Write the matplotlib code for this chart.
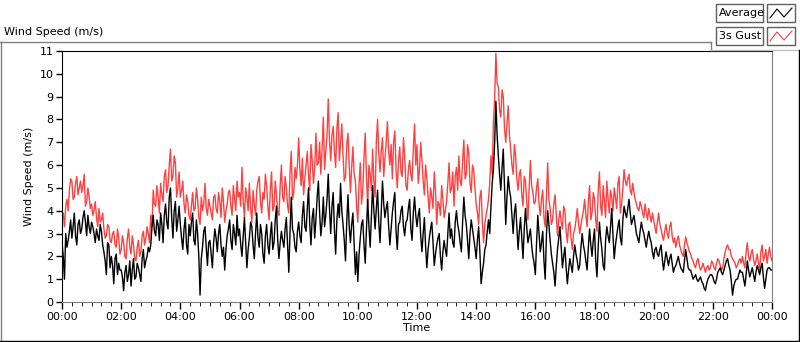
import numpy as np
import matplotlib.pyplot as plt
from matplotlib.lines import Line2D
from matplotlib.patches import Rectangle

# 5 minute samples, one row per hour (00:00 ... 23:55) + final point at 24:00
gust = [
    3.6, 3.3, 4.5, 4.9, 5.3, 4.6, 5.5, 5.0, 4.8, 5.6, 4.4, 4.6,   # 00
    4.3, 4.0, 3.7, 4.1, 3.6, 3.2, 2.9, 3.3, 2.6, 3.1, 2.4, 2.8,   # 01
    2.3, 2.6, 1.9, 3.2, 2.1, 2.5, 1.8, 2.7, 2.2, 3.1, 2.8, 3.0,   # 02
    3.8, 4.9, 4.2, 4.6, 5.2, 4.4, 5.8, 5.1, 6.7, 5.5, 6.1, 5.0,   # 03
    4.6, 5.3, 3.9, 4.4, 3.6, 4.8, 4.1, 4.5, 3.4, 4.0, 5.2, 3.8,   # 04
    4.2, 3.6, 4.7, 3.9, 4.4, 5.0, 3.5, 4.3, 4.9, 3.8, 4.5, 5.3,   # 05
    4.8, 5.9, 3.7, 4.6, 5.2, 3.5, 4.3, 4.9, 5.5, 3.9, 4.5, 5.1,   # 06
    3.6, 5.7, 4.2, 4.7, 3.8, 6.0, 4.4, 5.0, 3.9, 6.6, 4.8, 5.4,   # 07
    7.2, 5.1, 4.7, 6.0, 5.5, 6.9, 5.2, 7.4, 6.1, 5.6, 8.1, 6.6,   # 08
    8.9, 6.2, 7.7, 5.9, 8.3, 7.0, 6.4, 5.5, 7.4, 4.8, 6.8, 5.3,   # 09
    3.5, 6.1, 4.9, 7.4, 4.2, 5.6, 6.7, 4.6, 8.0, 5.7, 7.2, 6.3,   # 10
    7.9, 6.0, 5.4, 7.5, 5.0, 6.8, 5.5, 6.4, 4.9, 6.2, 5.3, 7.8,   # 11
    6.9, 5.8, 6.2, 4.7, 5.4, 3.9, 4.6, 5.7, 3.4, 4.3, 5.1, 3.7,   # 12
    4.4, 6.1, 5.0, 4.2, 5.9, 6.4, 5.1, 7.1, 5.6, 6.5, 4.8, 5.8,   # 13
    4.3, 3.4, 4.9, 2.6, 3.8, 4.5, 6.4, 7.9, 10.9, 9.4, 8.1, 9.0,  # 14
    7.0, 8.6, 6.7, 5.6, 6.4, 4.9, 5.8, 4.2, 5.3, 3.6, 6.2, 4.8,   # 15
    4.4, 5.4, 3.8, 4.9, 3.3, 6.1, 4.1, 3.6, 4.7, 2.9, 4.0, 3.2,   # 16
    4.0, 2.6, 3.5, 2.3, 3.2, 4.1, 3.0, 3.7, 4.5, 3.3, 5.1, 3.9,   # 17
    4.5, 3.1, 5.7, 3.8, 4.4, 5.3, 3.9, 4.6, 5.0, 4.1, 5.5, 4.3,   # 18
    5.8, 5.1, 5.6, 4.7, 4.8, 4.3, 4.0, 4.2, 3.7, 3.9, 4.1, 3.5,   # 19
    3.6, 3.0, 3.9, 3.2, 2.7, 3.4, 2.8, 3.5, 2.6, 2.4, 2.9, 2.3,   # 20
    2.0, 2.85, 2.4, 2.1, 1.8, 1.5, 1.9, 1.4, 1.7, 1.3, 1.6, 1.5,  # 21
    1.7, 1.4, 1.9, 1.6, 1.5, 2.2, 2.5, 2.3, 1.9, 1.7, 1.6, 1.9,   # 22
    2.0, 1.5, 2.6, 1.8, 2.3, 1.6, 2.1, 1.4, 2.5, 2.0, 1.7, 2.4,   # 23
    1.8,
]
# samples 2.5 min after each of the above
gust_mid = [
    3.9, 4.2, 4.0, 5.4, 4.5, 5.2, 4.7, 5.3, 5.1, 4.2, 5.0, 4.1,   # 00
    3.8, 4.4, 3.3, 3.5, 3.9, 2.8, 3.4, 2.7, 3.0, 2.5, 3.2, 2.1,   # 01
    2.9, 2.0, 2.8, 2.4, 2.9, 1.9, 2.4, 2.0, 2.9, 2.5, 3.3, 2.6,   # 02
    3.3, 4.3, 5.1, 3.9, 4.7, 5.5, 4.8, 6.0, 5.3, 6.4, 4.6, 5.7,   # 03
    4.9, 4.3, 4.7, 3.8, 4.2, 4.0, 5.0, 3.7, 4.6, 4.3, 4.1, 4.5,   # 04
    3.9, 4.6, 4.1, 4.8, 3.7, 4.4, 4.0, 4.8, 4.2, 5.1, 4.0, 4.6,   # 05
    4.2, 4.4, 5.0, 4.0, 4.1, 4.9, 3.8, 5.3, 4.4, 4.8, 5.6, 4.2,   # 06
    4.9, 4.0, 5.3, 3.9, 5.1, 4.6, 5.5, 4.2, 5.7, 4.5, 5.9, 6.0,   # 07
    5.8, 6.3, 5.4, 6.6, 4.9, 6.2, 5.9, 6.0, 7.0, 6.7, 5.8, 7.3,   # 08
    7.1, 7.3, 6.6, 7.6, 6.2, 7.8, 5.3, 6.9, 6.0, 5.9, 5.6, 4.2,   # 09
    5.2, 4.3, 6.3, 5.5, 6.0, 4.9, 5.3, 7.0, 6.5, 6.6, 5.5, 7.0,   # 10
    6.6, 6.9, 7.0, 5.8, 6.2, 5.7, 7.2, 5.1, 5.8, 5.6, 6.7, 6.0,   # 11
    5.2, 7.0, 5.3, 6.0, 4.6, 5.0, 4.1, 4.9, 4.4, 3.8, 4.5, 4.0,   # 12
    5.2, 4.8, 5.7, 5.5, 4.9, 5.3, 6.2, 5.4, 6.9, 5.2, 6.0, 5.0,   # 13
    3.9, 4.6, 3.5, 3.4, 4.1, 5.2, 5.6, 8.9, 9.6, 8.4, 9.3, 7.6,   # 14
    7.8, 7.3, 6.0, 6.9, 5.4, 5.6, 4.7, 5.5, 4.4, 5.0, 5.1, 4.3,   # 15
    5.0, 4.3, 4.5, 3.7, 4.6, 4.5, 3.4, 4.3, 3.8, 3.6, 3.5, 4.2,   # 16
    3.1, 3.4, 2.8, 3.0, 3.6, 3.5, 3.4, 4.0, 3.8, 4.4, 3.6, 4.8,   # 17
    3.6, 4.9, 4.2, 5.1, 3.7, 4.5, 4.9, 4.0, 4.6, 5.2, 3.9, 5.0,   # 18
    5.3, 5.4, 4.9, 5.2, 4.5, 4.1, 4.4, 3.9, 4.3, 3.6, 3.8, 3.9,   # 19
    3.3, 3.5, 3.4, 2.9, 3.1, 3.0, 3.3, 2.9, 2.8, 2.7, 2.5, 2.1,   # 20
    2.5, 2.6, 2.2, 1.9, 1.6, 1.8, 1.6, 1.5, 1.5, 1.5, 1.4, 1.8,   # 21
    1.5, 1.7, 1.8, 1.4, 1.9, 2.4, 2.3, 2.0, 1.8, 1.5, 1.8, 1.7,   # 22
    1.7, 2.2, 2.0, 2.1, 1.9, 1.8, 1.7, 2.2, 1.8, 2.3, 2.1, 2.0,   # 23
]
average = [
    2.6, 1.0, 2.4, 3.1, 2.8, 3.9, 2.5, 3.6, 3.2, 4.0, 2.9, 3.3,   # 00
    3.5, 3.0, 3.2, 2.7, 3.1, 2.2, 1.2, 2.5, 2.0, 0.8, 2.1, 1.7,   # 01
    1.4, 0.5, 1.6, 1.2, 0.7, 1.9, 1.1, 1.5, 0.9, 2.3, 1.8, 2.4,   # 02
    2.5, 3.8, 2.9, 3.4, 3.9, 2.6, 4.3, 3.2, 5.0, 2.8, 4.4, 3.6,   # 03
    3.4, 2.3, 3.7, 2.1, 2.9, 3.9, 2.5, 3.0, 0.3, 2.4, 3.3, 1.6,   # 04
    2.7, 1.5, 3.2, 2.2, 3.4, 2.0, 1.4, 2.9, 3.6, 2.3, 3.0, 3.8,   # 05
    3.2, 2.0, 3.7, 1.5, 2.8, 3.3, 1.9, 3.9, 2.4, 3.0, 1.7, 3.4,   # 06
    2.1, 3.5, 2.6, 4.2, 1.9, 3.1, 2.4, 3.7, 1.3, 4.6, 3.0, 2.2,   # 07
    3.5, 2.6, 4.4, 3.1, 5.0, 2.5, 4.1, 3.6, 5.3, 2.9, 4.6, 3.8,   # 08
    5.6, 3.0, 4.8, 2.1, 4.3, 5.2, 3.4, 1.8, 4.7, 2.6, 3.9, 1.2,   # 09
    0.9, 2.8, 3.6, 1.7, 4.5, 2.4, 5.1, 3.2, 4.9, 2.6, 5.3, 3.7,   # 10
    4.4, 2.5, 3.9, 4.8, 2.3, 3.5, 4.2, 2.9, 3.6, 4.5, 2.7, 4.6,   # 11
    3.3, 4.1, 2.2, 3.7, 1.5, 2.8, 3.5, 1.6, 2.5, 3.0, 1.4, 2.7,   # 12
    2.0, 3.9, 3.2, 2.4, 4.0, 3.1, 2.2, 4.6, 3.4, 1.9, 3.6, 2.8,   # 13
    1.9, 3.3, 0.8, 1.7, 2.5, 3.6, 4.2, 5.8, 8.8, 6.4, 4.9, 6.7,   # 14
    3.4, 5.5, 4.6, 3.0, 4.3, 2.3, 3.7, 1.9, 4.1, 2.6, 3.2, 2.0,   # 15
    1.2, 3.8, 2.2, 3.1, 1.0, 4.0, 2.7, 1.7, 0.7, 2.3, 3.3, 1.5,   # 16
    2.4, 0.8, 1.9, 1.3, 2.5, 1.8, 1.6, 3.0, 2.2, 1.4, 3.2, 2.0,   # 17
    3.2, 1.1, 3.5, 2.3, 1.4, 3.3, 2.6, 4.1, 1.9, 2.9, 3.6, 2.5,   # 18
    4.2, 3.7, 4.5, 3.4, 3.8, 3.0, 2.6, 3.5, 3.0, 2.4, 3.1, 2.6,   # 19
    1.9, 2.4, 2.0, 2.5, 1.4, 2.2, 1.6, 2.1, 1.3, 1.6, 2.0, 1.5,   # 20
    1.3, 2.3, 1.5, 1.4, 1.0, 1.2, 0.9, 1.1, 0.8, 0.5, 1.0, 1.2,   # 21
    1.1, 0.8, 1.3, 1.5, 1.2, 1.6, 1.9, 1.4, 0.3, 0.9, 1.0, 1.4,   # 22
    1.3, 0.7, 1.8, 1.1, 1.5, 0.9, 1.6, 1.2, 1.7, 0.6, 1.4, 1.5,   # 23
    1.4,
]
average_mid = [
    2.0, 3.0, 2.7, 3.6, 3.3, 2.9, 3.4, 3.0, 3.7, 3.5, 3.8, 3.0,   # 00
    3.3, 2.6, 2.9, 3.4, 2.5, 1.8, 2.6, 1.5, 1.6, 1.9, 1.2, 1.4,   # 01
    1.1, 1.3, 0.9, 1.8, 1.4, 1.0, 1.7, 1.2, 1.9, 1.5, 2.0, 2.2,   # 02
    3.3, 3.1, 3.6, 2.7, 3.4, 3.8, 3.5, 4.6, 3.7, 4.0, 3.1, 4.2,   # 03
    2.8, 3.2, 2.5, 3.4, 3.5, 2.7, 3.6, 2.0, 1.9, 3.1, 2.4, 2.6,   # 04
    2.1, 2.6, 2.8, 3.0, 2.5, 2.4, 2.3, 3.2, 2.7, 3.4, 2.5, 2.9,   # 05
    2.5, 2.9, 2.6, 2.3, 3.5, 2.5, 3.0, 2.8, 3.4, 2.1, 2.9, 2.5,   # 06
    2.9, 2.3, 3.6, 2.7, 2.6, 2.7, 3.2, 2.5, 3.1, 3.2, 2.4, 3.1,   # 07
    2.9, 3.8, 3.3, 4.1, 3.4, 3.7, 2.8, 4.6, 3.9, 3.5, 3.3, 4.5,   # 08
    4.1, 4.2, 3.2, 3.6, 3.7, 4.0, 2.7, 3.5, 3.3, 3.4, 2.5, 2.2,   # 09
    2.1, 3.4, 2.5, 3.2, 3.3, 3.8, 4.0, 4.1, 3.5, 4.0, 4.3, 4.1,   # 10
    3.3, 3.2, 4.4, 3.1, 3.4, 4.0, 3.3, 3.5, 4.1, 3.2, 3.9, 3.8,   # 11
    3.8, 2.9, 3.0, 2.4, 2.3, 3.2, 2.6, 2.1, 2.8, 2.0, 2.2, 2.3,   # 12
    3.0, 2.8, 2.6, 3.5, 3.4, 2.6, 3.5, 3.8, 2.7, 3.0, 3.2, 2.4,   # 13
    2.7, 2.2, 1.3, 2.3, 3.1, 3.0, 5.2, 7.0, 7.3, 5.6, 5.9, 5.0,   # 14
    4.6, 4.9, 3.8, 3.9, 3.3, 3.1, 2.8, 3.2, 3.3, 2.9, 2.5, 1.7,   # 15
    2.6, 3.0, 2.6, 1.8, 2.9, 3.4, 2.1, 1.3, 1.6, 2.8, 2.4, 2.0,   # 16
    1.5, 1.4, 1.6, 2.0, 2.1, 1.4, 2.4, 2.5, 1.8, 2.4, 2.5, 2.7,   # 17
    1.8, 2.4, 2.8, 1.6, 2.7, 2.9, 3.3, 2.9, 2.5, 3.3, 2.8, 3.6,   # 18
    3.9, 4.1, 3.9, 3.6, 3.4, 2.8, 3.1, 3.2, 2.7, 2.8, 2.8, 2.2,   # 19
    2.3, 2.1, 2.3, 1.9, 1.8, 1.9, 1.9, 1.7, 1.5, 1.8, 1.7, 1.4,   # 20
    1.8, 1.9, 1.4, 1.2, 1.1, 1.0, 1.0, 0.9, 0.6, 0.8, 1.1, 1.2,   # 21
    0.9, 1.0, 1.4, 1.3, 1.4, 1.8, 1.6, 0.9, 0.7, 1.0, 1.2, 1.3,   # 22
    1.0, 1.2, 1.4, 1.3, 1.2, 1.3, 1.4, 1.5, 1.1, 1.0, 1.5, 1.4,   # 23
]

# merge the two sample sets into one 2.5 minute series
gust_all = np.empty(len(gust) + len(gust_mid))
gust_all[0::2] = gust
gust_all[1::2] = gust_mid
avg_all = np.empty(len(average) + len(average_mid))
avg_all[0::2] = average
avg_all[1::2] = average_mid
hours = np.arange(len(gust_all)) / 24.0

tick_hours = list(range(0, 25, 2))
tick_labels = ["00:00", "02:00", "04:00", "06:00", "08:00", "10:00", "12:00",
               "14:00", "16:00", "18:00", "20:00", "22:00", "00:00"]
y_ticks = list(range(0, 12))

W, H = 800, 342


def fx(x):
    return x / W


def fy(y):
    return 1 - y / H


fig = plt.figure(figsize=(W / 100, H / 100), dpi=100)
ax = fig.add_axes([fx(62), fy(302), 710 / W, 251 / H])

ax.plot(hours, gust_all, color="#ff4040", lw=1.0)
ax.plot(hours, avg_all, color="black", lw=1.0)

ax.set_xlim(0, 24)
ax.set_ylim(0, 11)
ax.set_xticks(tick_hours)
ax.set_xticklabels(tick_labels)
ax.set_xticks(np.arange(0, 24.01, 1 / 3), minor=True)
ax.set_yticks(y_ticks)
ax.tick_params(axis="both", labelsize=8, color="black", width=1)
ax.tick_params(axis="x", which="major", length=5, pad=2)
ax.tick_params(axis="x", which="minor", length=3)
ax.tick_params(axis="y", length=4, pad=2)
ax.set_xlabel("Time", fontsize=8, labelpad=1)
ax.set_ylabel("Wind Speed (m/s)", fontsize=8, labelpad=4)

ax.spines["left"].set_color("black")
ax.spines["top"].set_color("black")
ax.spines["right"].set_color("#808080")
ax.spines["bottom"].set_color("#808080")

# chart title and frame
fig.text(fx(4), fy(32), "Wind Speed (m/s)", fontsize=8, va="center", ha="left")
fig.add_artist(Line2D([fx(0), fx(711)], [fy(42), fy(42)], color="#808080", lw=1))
fig.add_artist(Line2D([fx(711), fx(711)], [fy(42), fy(50)], color="#808080", lw=1))
fig.add_artist(Line2D([fx(711), fx(800)], [fy(50), fy(50)], color="#c0c0c0", lw=1))
fig.add_artist(Line2D([fx(1), fx(1)], [fy(42), fy(341)], color="#808080", lw=1))
fig.add_artist(Line2D([fx(0), fx(800)], [fy(341), fy(341)], color="black", lw=1))
fig.add_artist(Line2D([fx(799), fx(799)], [fy(50), fy(341)], color="black", lw=1))

# legend boxes
for i, (name, col) in enumerate([("Average", "black"), ("3s Gust", "#ff4040")]):
    top = 4 + i * 23
    fig.add_artist(Rectangle((fx(716), fy(top + 18)), 47 / W, 18 / H, fc="white",
                             ec="#606060", lw=1))
    fig.text(fx(719), fy(top + 9), name, fontsize=8, va="center", ha="left")
    fig.add_artist(Rectangle((fx(767), fy(top + 18)), 28 / W, 18 / H, fc="white",
                             ec="#606060", lw=1))
    zx = [770, 777, 784, 792]
    zy = [top + 14, top + 5, top + 13, top + 4]
    fig.add_artist(Line2D([fx(v) for v in zx], [fy(v) for v in zy], color=col, lw=0.8))

fig.savefig("out.png", dpi=100)
